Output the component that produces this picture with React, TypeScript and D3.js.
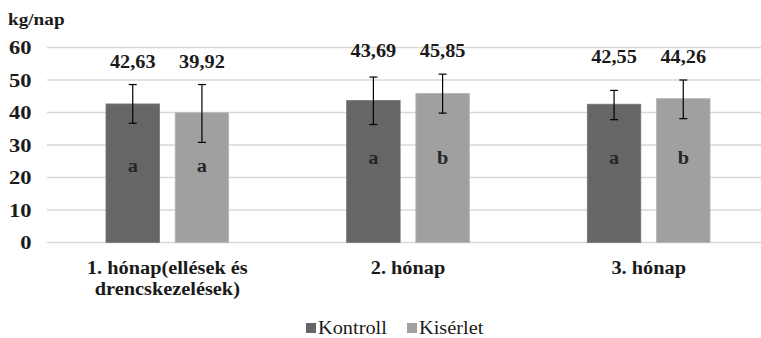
import React from "react";
import * as d3 from "d3";

const categories = ["1. hónap(ellések és|drencskezelések)", "2. hónap", "3. hónap"];
const seriesNames = ["Kontroll", "Kisérlet"];
const kontrollValues = [42.63, 43.69, 42.55];
const kiserletValues = [39.92, 45.85, 44.26];
const kontrollErrLow = [36.7, 36.3, 37.8];
const kontrollErrHigh = [48.6, 50.9, 46.8];
const kiserletErrLow = [30.8, 39.8, 38.1];
const kiserletErrHigh = [48.6, 51.8, 50.0];
const kontrollLetters = ["a", "a", "a"];
const kiserletLetters = ["a", "b", "b"];
const valueLabels = [["42,63", "39,92"], ["43,69", "45,85"], ["42,55", "44,26"]];
const yTicks = [0, 10, 20, 30, 40, 50, 60];
const yLabel = "kg/nap";

const colors = ["#666666", "#a0a0a0"];
const W = 761;
const H = 338;
const SX = 1.13;
const FONT = "'Liberation Serif', 'Times New Roman', serif";

function T({ x, y, anchor = "middle", size = 18, weight = "bold", fill = "#1a1a1a", sx = SX, children }: any) {
  return (
    <text
      transform={`translate(${x},${y}) scale(${sx},1)`}
      textAnchor={anchor}
      style={{ fontFamily: FONT, fontSize: size, fontWeight: weight as any }}
      fill={fill}
    >
      {children}
    </text>
  );
}

export default function App() {
  const y = d3.scaleLinear().domain([0, 60]).range([242.5, 47.5]);
  const x0 = d3.scaleBand<string>().domain(categories).range([47, 769]).padding(0);
  const x1 = d3.scaleBand<string>().domain(seriesNames).range([-61.35, 61.35]).paddingInner(0.227).paddingOuter(0);
  const bw = x1.bandwidth();
  const series = [
    { name: seriesNames[0], values: kontrollValues, lo: kontrollErrLow, hi: kontrollErrHigh, letters: kontrollLetters },
    { name: seriesNames[1], values: kiserletValues, lo: kiserletErrLow, hi: kiserletErrHigh, letters: kiserletLetters },
  ];

  return (
    <svg width={W} height={H} style={{ position: "absolute", left: 0, top: 0, background: "#fff" }}>
      <rect x={0} y={0} width={W} height={H} fill="#fff" />
      <T x={8} y={25} anchor="start" size={17}>{yLabel}</T>
      {yTicks.map((t) => (
        <g key={t}>
          <line x1={47} x2={W} y1={y(t)} y2={y(t)} stroke="#d9d9d9" strokeWidth={1.5} />
          <T x={31.5} y={y(t) + 6.5} anchor="end" size={18} sx={1.25}>{t}</T>
        </g>
      ))}
      {categories.map((c, i) => {
        const cx = (x0(c) as number) + x0.bandwidth() / 2;
        const groupTop = Math.min(...series.map((s) => y(s.hi[i])));
        return (
          <g key={c}>
            {series.map((s, j) => {
              const bx = cx + (x1(s.name) as number);
              const mx = bx + bw / 2;
              return (
                <g key={s.name}>
                  <rect x={bx} y={y(s.values[i])} width={bw} height={y(0) - y(s.values[i])} fill={colors[j]} stroke={j === 0 ? "#777" : "#b4b4b4"} strokeWidth={0.8} />
                  <line x1={mx} x2={mx} y1={y(s.hi[i])} y2={y(s.lo[i])} stroke="#000" strokeWidth={1.2} />
                  <line x1={mx - 4} x2={mx + 4} y1={y(s.hi[i])} y2={y(s.hi[i])} stroke="#000" strokeWidth={1.2} />
                  <line x1={mx - 4} x2={mx + 4} y1={y(s.lo[i])} y2={y(s.lo[i])} stroke="#000" strokeWidth={1.2} />
                  <T x={mx} y={groupTop - 17} size={18}>{valueLabels[i][j]}</T>
                  <T x={mx} y={i === 0 ? 172 : 163.5} size={18} fill="#262626">{s.letters[i]}</T>
                </g>
              );
            })}
            {c.split("|").map((line, k) => (
              <T key={k} x={cx} y={274 + k * 21} size={18}>{line}</T>
            ))}
          </g>
        );
      })}
      {seriesNames.map((n, j) => {
        const lx = j === 0 ? 306 : 407;
        return (
          <g key={n}>
            <rect x={lx} y={323} width={10} height={10} fill={colors[j]} />
            <T x={lx + 12} y={334} anchor="start" size={18} weight="normal" fill="#1a1a1a">{n}</T>
          </g>
        );
      })}
    </svg>
  );
}
